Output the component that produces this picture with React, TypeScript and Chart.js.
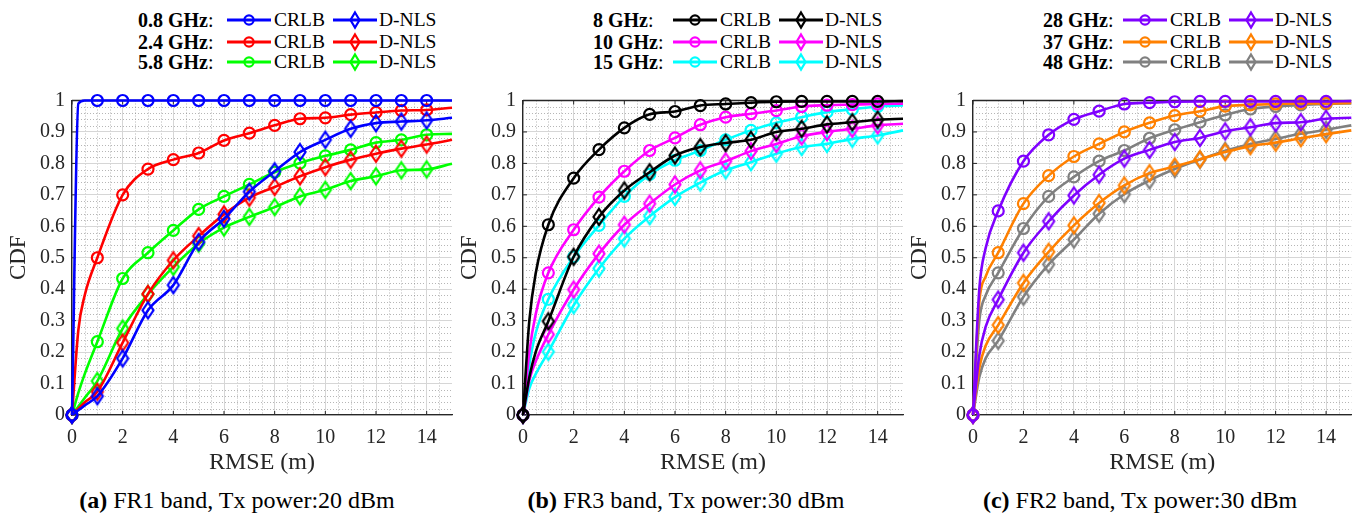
import React, { useEffect, useRef } from 'react';
import { Chart, registerables } from 'chart.js';

Chart.register(...registerables);

// ---------------- data ----------------
const RMSE_X = [0, 0.25, 0.5, 1, 2, 3, 4, 5, 6, 7, 8, 9, 10, 11, 12, 13, 14, 15];
const X_TICKS = [0, 2, 4, 6, 8, 10, 12, 14];
const Y_TICKS = [0, 0.1, 0.2, 0.3, 0.4, 0.5, 0.6, 0.7, 0.8, 0.9, 1];

// (a) FR1
const A_08_CRLB = [0, 0.99, 1, 1, 1, 1, 1, 1, 1, 1, 1, 1, 1, 1, 1, 1, 1, 1];
const A_24_CRLB = [0, 0.27, 0.38, 0.5, 0.7, 0.782, 0.812, 0.833, 0.873, 0.896, 0.921, 0.942, 0.945, 0.955, 0.962, 0.968, 0.97, 0.977];
const A_58_CRLB = [0, 0.07, 0.13, 0.233, 0.434, 0.516, 0.587, 0.654, 0.695, 0.733, 0.772, 0.801, 0.824, 0.843, 0.866, 0.875, 0.891, 0.894];
const A_08_DNLS = [0, 0.015, 0.03, 0.06, 0.18, 0.333, 0.413, 0.55, 0.624, 0.71, 0.775, 0.836, 0.875, 0.91, 0.928, 0.933, 0.937, 0.945];
const A_24_DNLS = [0, 0.02, 0.04, 0.074, 0.23, 0.385, 0.492, 0.569, 0.638, 0.691, 0.725, 0.759, 0.788, 0.812, 0.831, 0.847, 0.86, 0.875];
const A_58_DNLS = [0, 0.027, 0.054, 0.108, 0.275, 0.384, 0.471, 0.545, 0.596, 0.63, 0.661, 0.695, 0.716, 0.744, 0.759, 0.778, 0.781, 0.799];

// (b) FR3
const B_8_CRLB = [0, 0.3, 0.45, 0.605, 0.753, 0.844, 0.913, 0.956, 0.965, 0.984, 0.989, 0.993, 0.996, 0.997, 0.997, 0.997, 0.997, 0.998];
const B_10_CRLB = [0, 0.2, 0.32, 0.452, 0.589, 0.693, 0.775, 0.841, 0.881, 0.923, 0.947, 0.958, 0.968, 0.981, 0.985, 0.987, 0.989, 0.99];
const B_15_CRLB = [0, 0.16, 0.26, 0.368, 0.503, 0.603, 0.695, 0.765, 0.81, 0.841, 0.875, 0.905, 0.929, 0.947, 0.963, 0.972, 0.981, 0.984];
const B_8_DNLS = [0, 0.12, 0.2, 0.298, 0.503, 0.63, 0.714, 0.772, 0.825, 0.852, 0.865, 0.875, 0.9, 0.91, 0.924, 0.931, 0.939, 0.942];
const B_10_DNLS = [0, 0.11, 0.17, 0.256, 0.399, 0.513, 0.605, 0.672, 0.733, 0.778, 0.807, 0.839, 0.862, 0.886, 0.9, 0.91, 0.921, 0.926];
const B_15_DNLS = [0, 0.085, 0.13, 0.201, 0.349, 0.466, 0.561, 0.632, 0.693, 0.739, 0.778, 0.804, 0.831, 0.852, 0.862, 0.878, 0.889, 0.905];

// (c) FR2
const C_28_CRLB = [0, 0.4, 0.53, 0.649, 0.807, 0.891, 0.94, 0.966, 0.989, 0.993, 0.996, 0.997, 0.997, 0.997, 0.997, 0.997, 0.997, 0.998];
const C_37_CRLB = [0, 0.36, 0.44, 0.516, 0.672, 0.761, 0.822, 0.862, 0.9, 0.929, 0.952, 0.966, 0.982, 0.986, 0.989, 0.991, 0.991, 0.992];
const C_48_CRLB = [0, 0.3, 0.38, 0.452, 0.593, 0.695, 0.757, 0.807, 0.841, 0.88, 0.907, 0.931, 0.954, 0.973, 0.981, 0.986, 0.989, 0.991];
const C_28_DNLS = [0, 0.19, 0.28, 0.367, 0.516, 0.616, 0.698, 0.764, 0.815, 0.843, 0.868, 0.881, 0.902, 0.915, 0.928, 0.931, 0.942, 0.945];
const C_37_DNLS = [0, 0.15, 0.22, 0.286, 0.42, 0.519, 0.603, 0.674, 0.73, 0.769, 0.79, 0.813, 0.836, 0.855, 0.866, 0.88, 0.893, 0.905];
const C_48_DNLS = [0, 0.12, 0.18, 0.236, 0.376, 0.479, 0.558, 0.64, 0.702, 0.746, 0.782, 0.812, 0.84, 0.862, 0.878, 0.894, 0.907, 0.921];

const A_LABELS = ['0.8 GHz', '2.4 GHz', '5.8 GHz'];
const B_LABELS = ['8 GHz', '10 GHz', '15 GHz'];
const C_LABELS = ['28 GHz', '37 GHz', '48 GHz'];
const A_COLORS = ['#0000ff', '#ff0000', '#00ff00'];
const B_COLORS = ['#000000', '#ff00ff', '#00ffff'];
const C_COLORS = ['#7f00ff', '#ff8000', '#808080'];

const A_CRLB = [A_08_CRLB, A_24_CRLB, A_58_CRLB];
const A_DNLS = [A_08_DNLS, A_24_DNLS, A_58_DNLS];
const B_CRLB = [B_8_CRLB, B_10_CRLB, B_15_CRLB];
const B_DNLS = [B_8_DNLS, B_10_DNLS, B_15_DNLS];
const C_CRLB = [C_28_CRLB, C_37_CRLB, C_48_CRLB];
const C_DNLS = [C_28_DNLS, C_37_DNLS, C_48_DNLS];

const METHOD_NAMES = ['CRLB', 'D-NLS'];
const CAPTION_TAGS = ['(a)', '(b)', '(c)'];
const CAPTION_TEXTS = [' FR1 band, Tx power:20 dBm', ' FR3 band, Tx power:30 dBm', ' FR2 band, Tx power:30 dBm'];

// ---------------- style ----------------
const SERIF = "'Liberation Serif'";
const AXIS_COLOR = '#262626';

function makeDiamond(color: string) {
  const c = document.createElement('canvas');
  c.width = 18;
  c.height = 22;
  const g = c.getContext('2d')!;
  g.strokeStyle = color;
  g.lineWidth = 2.2;
  g.lineJoin = 'miter';
  g.beginPath();
  g.moveTo(9, 3);
  g.lineTo(14.5, 11);
  g.lineTo(9, 19);
  g.lineTo(3.5, 11);
  g.closePath();
  g.stroke();
  return c;
}

const isMarker = (i: number) => {
  const x = RMSE_X[i];
  return Number.isInteger(x) && x <= 14;
};

const framePlugin = {
  id: 'frame',
  beforeDraw(chart: any) {
    const { ctx, chartArea: a, scales } = chart;
    const sx = scales.x;
    const sy = scales.y;
    ctx.save();
    ctx.strokeStyle = 'rgba(110,110,110,0.5)';
    ctx.lineWidth = 1;
    ctx.setLineDash([1, 2]);
    for (let k = 1; k < 30; k++) {
      if (k % 4 === 0) continue;
      const px = Math.round(sx.getPixelForValue(k * 0.5)) + 0.5;
      if (px > a.right) break;
      ctx.beginPath();
      ctx.moveTo(px, a.top);
      ctx.lineTo(px, a.bottom);
      ctx.stroke();
    }
    for (let k = 1; k < 50; k++) {
      if (k % 5 === 0) continue;
      const py = Math.round(sy.getPixelForValue(k * 0.02)) + 0.5;
      ctx.beginPath();
      ctx.moveTo(a.left, py);
      ctx.lineTo(a.right, py);
      ctx.stroke();
    }
    ctx.restore();
  },
  beforeDatasetsDraw(chart: any) {
    const { ctx, chartArea: a, scales } = chart;
    ctx.save();
    ctx.strokeStyle = AXIS_COLOR;
    ctx.lineWidth = 1.3;
    ctx.beginPath();
    ctx.moveTo(a.left, a.top);
    ctx.lineTo(a.right, a.top);
    ctx.stroke();
    ctx.lineWidth = 1;
    for (const v of X_TICKS) {
      const px = scales.x.getPixelForValue(v);
      ctx.beginPath();
      ctx.moveTo(px, a.bottom);
      ctx.lineTo(px, a.bottom - 4);
      ctx.moveTo(px, a.top);
      ctx.lineTo(px, a.top + 4);
      ctx.stroke();
    }
    for (const v of Y_TICKS) {
      const py = scales.y.getPixelForValue(v);
      ctx.beginPath();
      ctx.moveTo(a.left, py);
      ctx.lineTo(a.left + 4, py);
      ctx.stroke();
    }
    ctx.restore();
  },
};

type PanelProps = {
  left: number;
  width: number;
  padRight: number;
  crlb: number[][];
  dnls: number[][];
  colors: string[];
};

function Panel({ left, width, padRight, crlb, dnls, colors }: PanelProps) {
  const ref = useRef<HTMLCanvasElement>(null);
  useEffect(() => {
    const datasets: any[] = [];
    colors.forEach((color, k) => {
      const diamond = makeDiamond(color);
      [crlb[k], dnls[k]].forEach((vals, m) => {
        datasets.push({
          label: `${k}-${METHOD_NAMES[m]}`,
          data: RMSE_X.map((x, i) => ({ x, y: vals[i] })),
          borderColor: color,
          borderWidth: 2.6,
          cubicInterpolationMode: 'monotone',
          fill: false,
          clip: false,
          pointStyle: m === 0 ? 'circle' : diamond,
          pointRadius: (c: any) => (isMarker(c.dataIndex) ? 5.5 : 0),
          pointBorderWidth: 2.2,
          pointBorderColor: color,
          pointBackgroundColor: 'rgba(0,0,0,0)',
        });
      });
    });
    const chart = new Chart(ref.current!, {
      type: 'line',
      data: { datasets },
      plugins: [framePlugin],
      options: {
        responsive: false,
        animation: false,
        events: [],
        layout: { padding: { top: 12.5, right: padRight, left: 0, bottom: 0 } },
        plugins: { legend: { display: false }, tooltip: { enabled: false } },
        scales: {
          x: {
            type: 'linear',
            min: 0,
            max: 15,
            afterBuildTicks: (s: any) => {
              s.ticks = X_TICKS.map((v) => ({ value: v }));
            },
            afterFit: (s: any) => {
              s.height = 65;
              s.paddingLeft = 0;
              s.paddingRight = 0;
            },
            grid: { color: '#d6d6d6', lineWidth: 1, drawTicks: false },
            border: { display: true, color: AXIS_COLOR, width: 1.3 },
            ticks: {
              padding: 11,
              color: AXIS_COLOR,
              maxRotation: 0,
              autoSkip: false,
              font: { family: SERIF, size: 20 },
              callback: (v: any) => String(v),
            },
            title: {
              display: true,
              text: 'RMSE (m)',
              color: AXIS_COLOR,
              font: { family: SERIF, size: 24 },
              padding: { top: 0, bottom: 2.5 },
            },
          },
          y: {
            type: 'linear',
            min: 0,
            max: 1,
            afterBuildTicks: (s: any) => {
              s.ticks = Y_TICKS.map((v) => ({ value: v }));
            },
            afterFit: (s: any) => {
              s.width = 72;
              s.paddingTop = 0;
              s.paddingBottom = 0;
            },
            grid: { color: '#d6d6d6', lineWidth: 1, drawTicks: false },
            border: { display: true, color: AXIS_COLOR, width: 1.3 },
            ticks: {
              padding: 7,
              color: AXIS_COLOR,
              font: { family: SERIF, size: 20 },
              callback: (v: any) => String(v),
            },
            title: {
              display: true,
              text: 'CDF',
              color: AXIS_COLOR,
              font: { family: SERIF, size: 23 },
              padding: { top: 5, bottom: 0 },
            },
          },
        },
      } as any,
    });
    return () => chart.destroy();
  }, []);
  return (
    <canvas
      ref={ref}
      width={width}
      height={392}
      style={{ position: 'absolute', left, top: 88, display: 'block' }}
    />
  );
}

function Sample({ color, marker }: { color: string; marker: 'o' | 'd' }) {
  return (
    <svg width={44} height={22} style={{ position: 'absolute', top: 0, left: 0, overflow: 'visible' }}>
      <line x1={0} y1={11} x2={44} y2={11} stroke={color} strokeWidth={2.8} />
      {marker === 'o' ? (
        <circle cx={22} cy={11} r={4.6} stroke={color} strokeWidth={2.2} fill="none" />
      ) : (
        <polygon points="22,3.5 26.5,11 22,18.5 17.5,11" stroke={color} strokeWidth={2.2} fill="none" />
      )}
    </svg>
  );
}

function Legend({ left, labelCol, labels, colors }: { left: number; labelCol: number; labels: string[]; colors: string[] }) {
  const rowsY = [20, 41.5, 62];
  return (
    <>
      {labels.map((lab, i) => {
        const ls = left + labelCol;
        return (
          <div key={lab} style={{ position: 'absolute', left: 0, top: rowsY[i] - 11, height: 22, width: 1359 }}>
            <span style={{ position: 'absolute', left, top: 0, lineHeight: '22px', fontSize: 20, fontWeight: 'bold', whiteSpace: 'nowrap' }}>
              {lab}
              <span style={{ fontWeight: 'normal' }}>:</span>
            </span>
            <div style={{ position: 'absolute', left: ls, top: 0, width: 44, height: 22 }}>
              <Sample color={colors[i]} marker="o" />
            </div>
            <span style={{ position: 'absolute', left: ls + 47, top: 0, lineHeight: '22px', fontSize: 19.5, whiteSpace: 'nowrap' }}>
              {METHOD_NAMES[0]}
            </span>
            <div style={{ position: 'absolute', left: ls + 106, top: 0, width: 44, height: 22 }}>
              <Sample color={colors[i]} marker="d" />
            </div>
            <span style={{ position: 'absolute', left: ls + 152, top: 0, lineHeight: '22px', fontSize: 19.5, whiteSpace: 'nowrap' }}>
              {METHOD_NAMES[1]}
            </span>
          </div>
        );
      })}
    </>
  );
}

function Caption({ center, idx }: { center: number; idx: number }) {
  return (
    <div
      style={{
        position: 'absolute',
        left: center - 250,
        width: 500,
        top: 485,
        lineHeight: '30px',
        textAlign: 'center',
        fontSize: 24,
        whiteSpace: 'nowrap',
      }}
    >
      <b>{CAPTION_TAGS[idx]}</b>
      {CAPTION_TEXTS[idx]}
    </div>
  );
}

export default function App() {
  return (
    <div
      style={{
        position: 'absolute',
        left: 0,
        top: 0,
        width: 1359,
        height: 515,
        background: '#ffffff',
        overflow: 'hidden',
        fontFamily: SERIF,
        color: '#000',
      }}
    >
      <Panel left={0} width={460} padRight={8} crlb={A_CRLB} dnls={A_DNLS} colors={A_COLORS} />
      <Panel left={451} width={460} padRight={8} crlb={B_CRLB} dnls={B_DNLS} colors={B_COLORS} />
      <Panel left={901} width={458} padRight={6} crlb={C_CRLB} dnls={C_DNLS} colors={C_COLORS} />
      <Legend left={138} labelCol={89} labels={A_LABELS} colors={A_COLORS} />
      <Legend left={593} labelCol={80} labels={B_LABELS} colors={B_COLORS} />
      <Legend left={1043} labelCol={80} labels={C_LABELS} colors={C_COLORS} />
      <Caption center={237} idx={0} />
      <Caption center={686} idx={1} />
      <Caption center={1140} idx={2} />
    </div>
  );
}
